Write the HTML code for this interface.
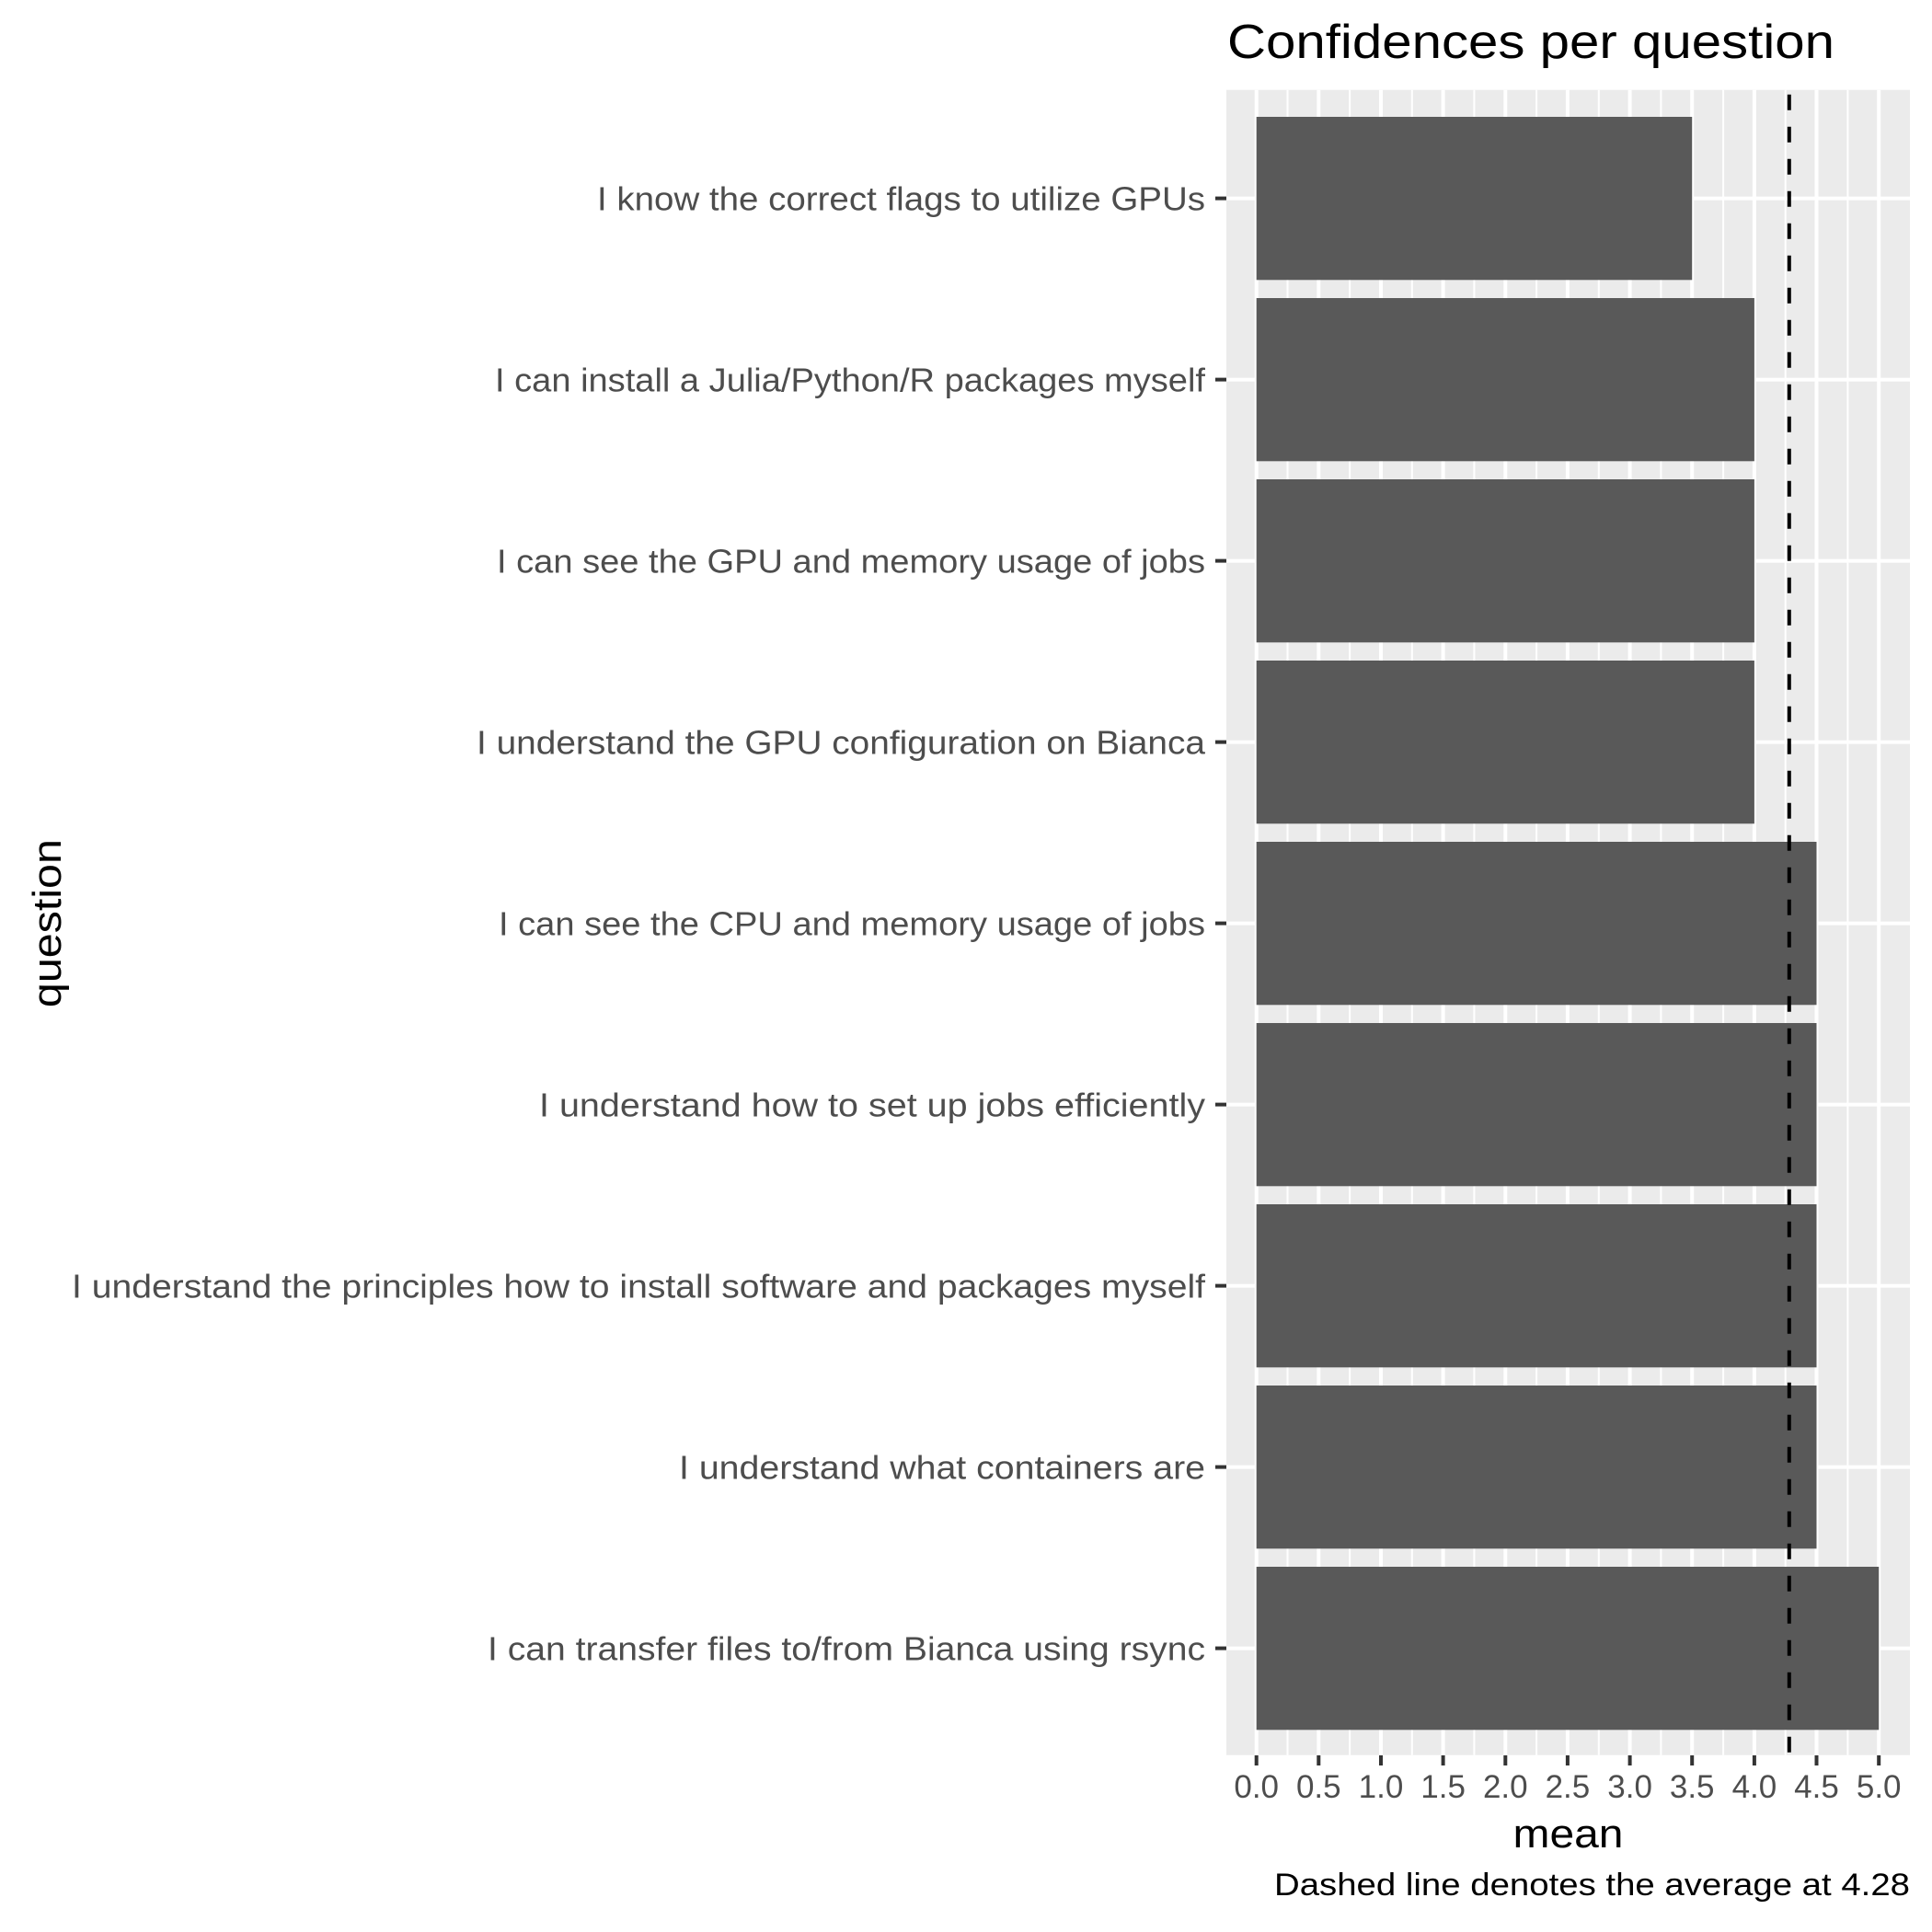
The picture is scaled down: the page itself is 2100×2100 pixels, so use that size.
<!DOCTYPE html>
<html><head><meta charset="utf-8"><style>html,body{margin:0;padding:0;background:#fff}svg{display:block}</style></head>
<body>
<svg width="2100" height="2100" viewBox="0 0 2100 2100" xmlns="http://www.w3.org/2000/svg" font-family="'Liberation Sans', sans-serif">
<rect x="0" y="0" width="2100" height="2100" fill="#fff"/>
<rect x="1333" y="97.7" width="743" height="1810" fill="#EBEBEB"/>
<g stroke="#fff" stroke-width="2">
<line x1="1399.5" y1="97.7" x2="1399.5" y2="1907.7"/>
<line x1="1467.1" y1="97.7" x2="1467.1" y2="1907.7"/>
<line x1="1534.8" y1="97.7" x2="1534.8" y2="1907.7"/>
<line x1="1602.4" y1="97.7" x2="1602.4" y2="1907.7"/>
<line x1="1670.1" y1="97.7" x2="1670.1" y2="1907.7"/>
<line x1="1737.8" y1="97.7" x2="1737.8" y2="1907.7"/>
<line x1="1805.4" y1="97.7" x2="1805.4" y2="1907.7"/>
<line x1="1873.1" y1="97.7" x2="1873.1" y2="1907.7"/>
<line x1="1940.7" y1="97.7" x2="1940.7" y2="1907.7"/>
<line x1="2008.4" y1="97.7" x2="2008.4" y2="1907.7"/>
</g>
<g stroke="#fff" stroke-width="4">
<line x1="1365.7" y1="97.7" x2="1365.7" y2="1907.7"/>
<line x1="1433.3" y1="97.7" x2="1433.3" y2="1907.7"/>
<line x1="1501" y1="97.7" x2="1501" y2="1907.7"/>
<line x1="1568.6" y1="97.7" x2="1568.6" y2="1907.7"/>
<line x1="1636.3" y1="97.7" x2="1636.3" y2="1907.7"/>
<line x1="1703.9" y1="97.7" x2="1703.9" y2="1907.7"/>
<line x1="1771.6" y1="97.7" x2="1771.6" y2="1907.7"/>
<line x1="1839.2" y1="97.7" x2="1839.2" y2="1907.7"/>
<line x1="1906.9" y1="97.7" x2="1906.9" y2="1907.7"/>
<line x1="1974.5" y1="97.7" x2="1974.5" y2="1907.7"/>
<line x1="2042.2" y1="97.7" x2="2042.2" y2="1907.7"/>
<line x1="1333" y1="215.6" x2="2076" y2="215.6"/>
<line x1="1333" y1="412.6" x2="2076" y2="412.6"/>
<line x1="1333" y1="609.6" x2="2076" y2="609.6"/>
<line x1="1333" y1="806.6" x2="2076" y2="806.6"/>
<line x1="1333" y1="1003.6" x2="2076" y2="1003.6"/>
<line x1="1333" y1="1200.6" x2="2076" y2="1200.6"/>
<line x1="1333" y1="1397.6" x2="2076" y2="1397.6"/>
<line x1="1333" y1="1594.6" x2="2076" y2="1594.6"/>
<line x1="1333" y1="1791.6" x2="2076" y2="1791.6"/>
</g>
<g fill="#595959">
<rect x="1365.7" y="127" width="473.5" height="177.3"/>
<rect x="1365.7" y="324" width="541.2" height="177.3"/>
<rect x="1365.7" y="521" width="541.2" height="177.3"/>
<rect x="1365.7" y="718" width="541.2" height="177.3"/>
<rect x="1365.7" y="915" width="608.8" height="177.3"/>
<rect x="1365.7" y="1112" width="608.8" height="177.3"/>
<rect x="1365.7" y="1309" width="608.8" height="177.3"/>
<rect x="1365.7" y="1506" width="608.8" height="177.3"/>
<rect x="1365.7" y="1703" width="676.5" height="177.3"/>
</g>
<line x1="1944.8" y1="97.7" x2="1944.8" y2="1907.7" stroke="#000" stroke-width="4" stroke-dasharray="17,18" stroke-dashoffset="-5"/>
<g stroke="#333" stroke-width="4">
<line x1="1321" y1="215.6" x2="1333" y2="215.6"/>
<line x1="1321" y1="412.6" x2="1333" y2="412.6"/>
<line x1="1321" y1="609.6" x2="1333" y2="609.6"/>
<line x1="1321" y1="806.6" x2="1333" y2="806.6"/>
<line x1="1321" y1="1003.6" x2="1333" y2="1003.6"/>
<line x1="1321" y1="1200.6" x2="1333" y2="1200.6"/>
<line x1="1321" y1="1397.6" x2="1333" y2="1397.6"/>
<line x1="1321" y1="1594.6" x2="1333" y2="1594.6"/>
<line x1="1321" y1="1791.6" x2="1333" y2="1791.6"/>
<line x1="1365.7" y1="1908" x2="1365.7" y2="1919"/>
<line x1="1433.3" y1="1908" x2="1433.3" y2="1919"/>
<line x1="1501" y1="1908" x2="1501" y2="1919"/>
<line x1="1568.6" y1="1908" x2="1568.6" y2="1919"/>
<line x1="1636.3" y1="1908" x2="1636.3" y2="1919"/>
<line x1="1703.9" y1="1908" x2="1703.9" y2="1919"/>
<line x1="1771.6" y1="1908" x2="1771.6" y2="1919"/>
<line x1="1839.2" y1="1908" x2="1839.2" y2="1919"/>
<line x1="1906.9" y1="1908" x2="1906.9" y2="1919"/>
<line x1="1974.5" y1="1908" x2="1974.5" y2="1919"/>
<line x1="2042.2" y1="1908" x2="2042.2" y2="1919"/>
</g>
<g fill="#4D4D4D" font-size="36" text-anchor="end">
<text x="1310" y="228.6" textLength="661" lengthAdjust="spacingAndGlyphs">I know the correct flags to utilize GPUs</text>
<text x="1310" y="425.6" textLength="772" lengthAdjust="spacingAndGlyphs">I can install a Julia/Python/R packages myself</text>
<text x="1310" y="622.6" textLength="770" lengthAdjust="spacingAndGlyphs">I can see the GPU and memory usage of jobs</text>
<text x="1310" y="819.6" textLength="792" lengthAdjust="spacingAndGlyphs">I understand the GPU configuration on Bianca</text>
<text x="1310" y="1016.6" textLength="768" lengthAdjust="spacingAndGlyphs">I can see the CPU and memory usage of jobs</text>
<text x="1310" y="1213.6" textLength="724" lengthAdjust="spacingAndGlyphs">I understand how to set up jobs efficiently</text>
<text x="1310" y="1410.6" textLength="1232" lengthAdjust="spacingAndGlyphs">I understand the principles how to install software and packages myself</text>
<text x="1310" y="1607.6" textLength="572" lengthAdjust="spacingAndGlyphs">I understand what containers are</text>
<text x="1310" y="1804.6" textLength="780" lengthAdjust="spacingAndGlyphs">I can transfer files to/from Bianca using rsync</text>
</g>
<g fill="#4D4D4D" font-size="35" text-anchor="middle">
<text x="1365.7" y="1954">0.0</text>
<text x="1433.3" y="1954">0.5</text>
<text x="1501" y="1954">1.0</text>
<text x="1568.6" y="1954">1.5</text>
<text x="1636.3" y="1954">2.0</text>
<text x="1703.9" y="1954">2.5</text>
<text x="1771.6" y="1954">3.0</text>
<text x="1839.2" y="1954">3.5</text>
<text x="1906.9" y="1954">4.0</text>
<text x="1974.5" y="1954">4.5</text>
<text x="2042.2" y="1954">5.0</text>
</g>
<text x="1704.5" y="2008" font-size="44" text-anchor="middle" fill="#000" textLength="120" lengthAdjust="spacingAndGlyphs">mean</text>
<text x="2076" y="2060" font-size="34" text-anchor="end" fill="#000" textLength="691" lengthAdjust="spacingAndGlyphs">Dashed line denotes the average at 4.28</text>
<text transform="translate(66,1003.6) rotate(-90)" font-size="44" text-anchor="middle" fill="#000" textLength="183" lengthAdjust="spacingAndGlyphs">question</text>
<text x="1334" y="63" font-size="52" fill="#000" textLength="660" lengthAdjust="spacingAndGlyphs">Confidences per question</text>
</svg>
</body></html>
